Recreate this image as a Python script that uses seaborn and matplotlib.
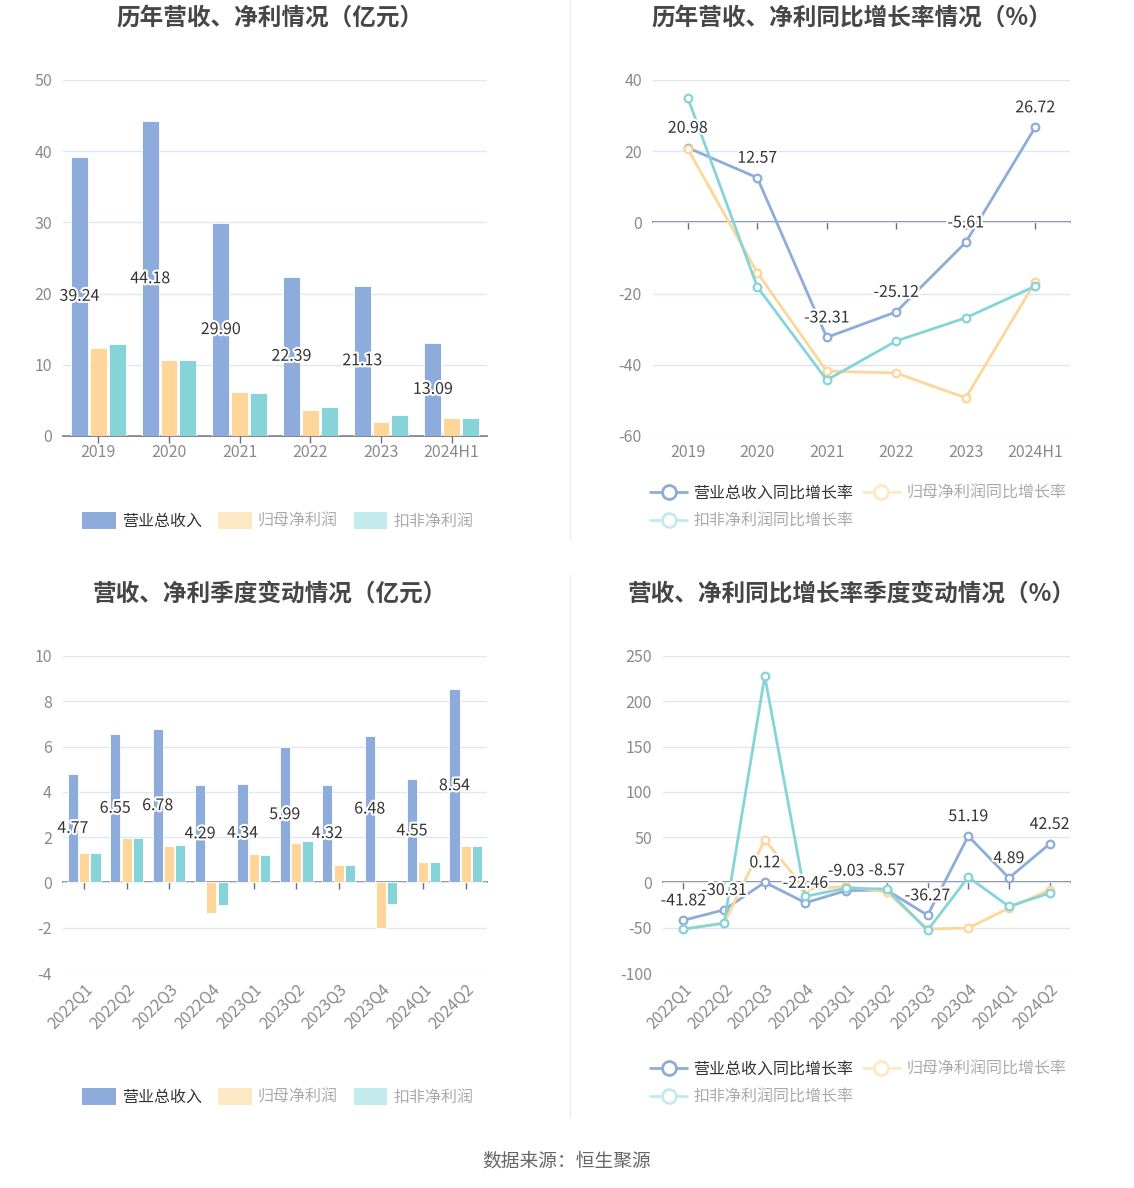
import matplotlib
matplotlib.use("Agg")
import matplotlib.pyplot as plt
import matplotlib.patheffects as pe
from matplotlib.lines import Line2D
from matplotlib.patches import Patch
import seaborn as sns
import pandas as pd

# annual data
years = ["2019", "2020", "2021", "2022", "2023", "2024H1"]
rev_year = [39.24, 44.18, 29.90, 22.39, 21.13, 13.09]
np_year = [12.40, 10.67, 6.23, 3.65, 1.92, 2.57]
kf_year = [12.97, 10.67, 5.99, 4.03, 3.00, 2.57]

rev_yoy_year = [20.98, 12.57, -32.31, -25.12, -5.61, 26.72]
np_yoy_year = [20.66, -14.1, -41.8, -42.3, -49.3, -16.7]
kf_yoy_year = [35.0, -18.1, -44.3, -33.3, -26.8, -17.9]

# quarterly data
quarters = ["2022Q1", "2022Q2", "2022Q3", "2022Q4", "2023Q1",
            "2023Q2", "2023Q3", "2023Q4", "2024Q1", "2024Q2"]
rev_q = [4.77, 6.55, 6.78, 4.29, 4.34, 5.99, 4.32, 6.48, 4.55, 8.54]
np_q = [1.32, 1.96, 1.62, -1.35, 1.26, 1.76, 0.78, -2.01, 0.91, 1.59]
kf_q = [1.32, 1.96, 1.66, -1.01, 1.22, 1.81, 0.78, -0.96, 0.90, 1.59]

rev_yoy_q = [-41.82, -30.31, 0.12, -22.46, -9.03, -8.57, -36.27, 51.19, 4.89, 42.52]
np_yoy_q = [-51.5, -45.0, 47.0, -7.4, -4.4, -10.7, -51.5, -50.4, -28.3, -8.1]
kf_yoy_q = [-51.5, -45.0, 228.0, -15.4, -6.3, -7.4, -53.0, 5.9, -26.5, -11.8]

bar_names = ["营业总收入", "归母净利润", "扣非净利润"]
line_names = ["营业总收入同比增长率", "归母净利润同比增长率", "扣非净利润同比增长率"]
colors = ["#8eacdb", "#ffd699", "#86d4d8"]
faded = ["#8eacdb", "#ffe8c4", "#c3eaec"]

sns.set_theme(style="white")
plt.rcParams["font.family"] = ["Noto Sans CJK SC", "DejaVu Sans"]
plt.rcParams["axes.unicode_minus"] = False

W, H = 1134, 1188
fig = plt.figure(figsize=(W / 100, H / 100), dpi=100)


def px_axes(x0, x1, ytop, ybot):
    return fig.add_axes([x0 / W, 1 - ybot / H, (x1 - x0) / W, (ybot - ytop) / H])


def style(ax, cats, ylim, step, rot=0):
    ax.set_ylim(*ylim)
    ax.set_xlim(-0.5, len(cats) - 0.5)
    ticks = list(range(ylim[0], ylim[1] + 1, step))
    ax.set_yticks(ticks)
    ax.set_yticklabels([str(t) for t in ticks])
    ax.grid(axis="y", color="#e0e6f1", lw=1)
    ax.grid(axis="x", visible=False)
    ax.set_axisbelow(True)
    for s in ax.spines.values():
        s.set_visible(False)
    ax.tick_params(axis="y", length=0, labelsize=11.5, labelcolor="#8a8a8a", pad=8)
    ax.tick_params(axis="x", length=0, labelsize=11.5, labelcolor="#8a8a8a", pad=6)
    ax.set_xlabel("")
    ax.set_ylabel("")
    if rot:
        plt.setp(ax.get_xticklabels(), rotation=rot, ha="right", rotation_mode="anchor")
    # zero axis line with tick marks
    sec = ax.secondary_xaxis(0, transform=ax.transData)
    sec.set_xticks(range(len(cats)))
    sec.set_xticklabels([])
    sec.tick_params(axis="x", length=5, width=1, color="#6e7079", direction="out")
    sec.spines["bottom"].set_color("#6e7079")
    sec.spines["bottom"].set_linewidth(1.2)
    for k in ("top", "left", "right"):
        sec.spines[k].set_visible(False)


def label_style():
    return dict(fontsize=11.5, color="#333333",
                path_effects=[pe.withStroke(linewidth=3, foreground="white")])


def bar_panel(ax, cats, rev, npv, kf, ylim, step, rot=0):
    df = pd.DataFrame({"period": cats * 3,
                       "metric": [bar_names[0]] * len(cats) + [bar_names[1]] * len(cats)
                       + [bar_names[2]] * len(cats),
                       "value": rev + npv + kf})
    sns.barplot(data=df, x="period", y="value", hue="metric", hue_order=bar_names,
                palette=colors, width=0.8, gap=0.1, edgecolor="white", linewidth=0.6,
                saturation=1, legend=False, ax=ax)
    style(ax, cats, ylim, step, rot)
    ax.bar_label(ax.containers[0], labels=[f"{v:.2f}" for v in rev],
                 label_type="center", zorder=5, **label_style())


def line_panel(ax, cats, rev, npv, kf, ylim, step, rot=0):
    for vals, c in zip([rev, npv, kf], colors):
        d = pd.DataFrame({"period": cats, "value": vals})
        sns.lineplot(data=d, x="period", y="value", sort=False, color=c, lw=2,
                     marker="o", markersize=5.5, markerfacecolor="white",
                     markeredgecolor=c, markeredgewidth=1.6, ax=ax)
    style(ax, cats, ylim, step, rot)
    for cat, v in zip(cats, rev):
        ax.annotate(f"{v:.2f}", (cat, v), xytext=(0, 14), textcoords="offset points",
                    ha="center", va="center", zorder=6, **label_style())


def bar_legend(ycenter):
    handles = [Patch(facecolor=faded[i], edgecolor="none") for i in range(3)]
    leg = fig.legend(handles, bar_names, loc="center", ncol=3,
                     bbox_to_anchor=(278 / W, 1 - ycenter / H), frameon=False,
                     fontsize=11.5, handlelength=2.1, handleheight=1.2,
                     columnspacing=1.0, handletextpad=0.4)
    for i, t in enumerate(leg.get_texts()):
        t.set_color("#333333" if i == 0 else "#aaaaaa")


def line_legend(ytop):
    handles = [Line2D([], [], color=faded[i], lw=2, marker="o", markersize=10,
                      markerfacecolor="white", markeredgewidth=2) for i in range(3)]
    order = [0, 2, 1]  # matplotlib fills columns first; this gives row order
    leg = fig.legend([handles[i] for i in order], [line_names[i] for i in order],
                     loc="upper left", ncol=2,
                     bbox_to_anchor=(636 / W, 1 - ytop / H), frameon=False,
                     fontsize=11.5, handlelength=2.3, columnspacing=0.6,
                     handletextpad=0.4, labelspacing=0.7)
    for t in leg.get_texts():
        t.set_color("#333333" if t.get_text() == line_names[0] else "#aaaaaa")


ax1 = px_axes(63, 487, 80, 436)
bar_panel(ax1, years, rev_year, np_year, kf_year, (0, 50), 10)

ax2 = px_axes(653, 1070, 80, 436)
line_panel(ax2, years, rev_yoy_year, np_yoy_year, kf_yoy_year, (-60, 40), 20)

ax3 = px_axes(63, 487, 656, 973)
bar_panel(ax3, quarters, rev_q, np_q, kf_q, (-4, 10), 2, rot=45)

ax4 = px_axes(663, 1070, 656, 973)
line_panel(ax4, quarters, rev_yoy_q, np_yoy_q, kf_yoy_q, (-100, 250), 50, rot=45)

bar_legend(521)
bar_legend(1097)
line_legend(470)
line_legend(1046)

title_kw = dict(fontsize=17, fontweight="bold", color="#464646", ha="center", va="center")
fig.text(270 / W, 1 - 19 / H, "历年营收、净利情况（亿元）", **title_kw)
fig.text(852 / W, 1 - 19 / H, "历年营收、净利同比增长率情况（%）", **title_kw)
fig.text(270 / W, 1 - 594 / H, "营收、净利季度变动情况（亿元）", **title_kw)
fig.text(852 / W, 1 - 594 / H, "营收、净利同比增长率季度变动情况（%）", **title_kw)

fig.text(567 / W, 1 - 1161 / H, "数据来源：恒生聚源", fontsize=13.5, color="#666666",
         ha="center", va="center")

for y0, y1 in [(0, 540), (575, 1118)]:
    fig.add_artist(Line2D([570 / W, 570 / W], [1 - y0 / H, 1 - y1 / H],
                          transform=fig.transFigure, color="#eeeeee", lw=1))

fig.savefig("out.png", dpi=100)
